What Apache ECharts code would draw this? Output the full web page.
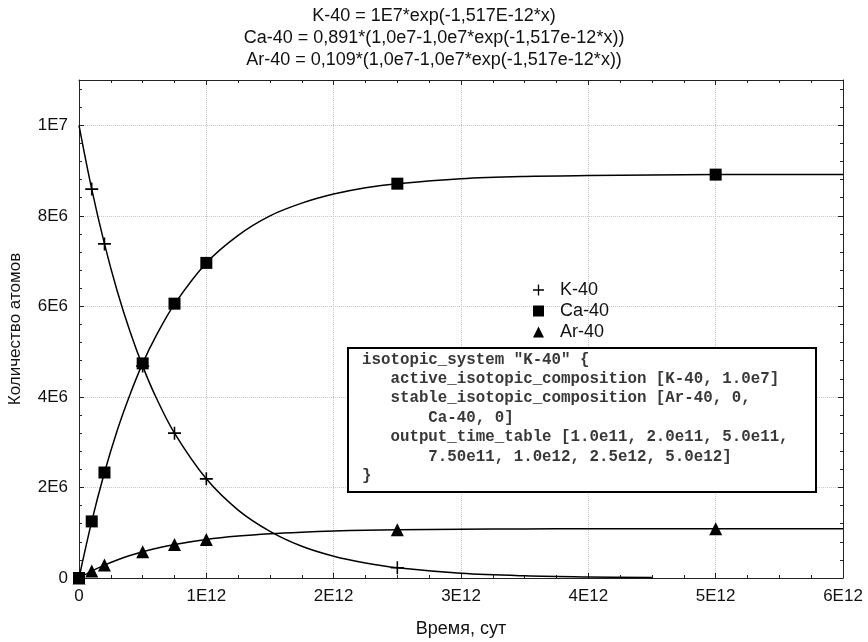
<!DOCTYPE html>
<html>
<head>
<meta charset="utf-8">
<title>K-40 decay</title>
<script src="https://cdn.jsdelivr.net/npm/echarts@6/dist/echarts.min.js"></script>
<style>
  html, body { margin: 0; padding: 0; background: #fff; }
  #chart { width: 868px; height: 642px; }
</style>
</head>
<body>
<div id="chart"></div>
<script>
// times of the computed output table (markers)
const markerTimes = [0, 1e11, 2e11, 5e11, 7.5e11, 1e12, 2.5e12, 5e12]
const k40Points = [null, 8.59e6, 7.38e6, 4.68e6, 3.20e6, 2.19e6, 2.25e5, null]
const ca40Points = [0, 1.25e6, 2.33e6, 4.74e6, 6.06e6, 6.96e6, 8.71e6, 8.91e6]
const ar40Points = [0, 1.53e5, 2.85e5, 5.79e5, 7.41e5, 8.51e5, 1.065e6, 1.089e6]

// fitted curves
const curveTimes = [0, 1e11, 2e11, 3e11, 4e11, 5e11, 6e11, 7.5e11, 1e12, 1.25e12, 1.5e12, 1.75e12, 2e12, 2.25e12, 2.5e12, 3e12, 3.5e12, 4e12, 4.5e12, 5e12, 6e12]
const k40Curve = [1.0e7, 8.59e6, 7.38e6, 6.34e6, 5.45e6, 4.68e6, 4.02e6, 3.20e6, 2.19e6, 1.50e6, 1.03e6, 7.0e5, 4.8e5, 3.3e5, 2.25e5, 1.05e5, 4.9e4, 2.3e4, 1.1e4, null, null]
const ca40Curve = [0, 1.25e6, 2.33e6, 3.26e6, 4.05e6, 4.74e6, 5.32e6, 6.05e6, 6.96e6, 7.57e6, 8.0e6, 8.28e6, 8.48e6, 8.62e6, 8.71e6, 8.82e6, 8.87e6, 8.89e6, 8.90e6, 8.91e6, 8.91e6]
const ar40Curve = [0, 1.53e5, 2.85e5, 3.99e5, 4.96e5, 5.79e5, 6.51e5, 7.41e5, 8.51e5, 9.26e5, 9.78e5, 1.013e6, 1.038e6, 1.054e6, 1.065e6, 1.079e6, 1.085e6, 1.087e6, 1.088e6, 1.089e6, 1.09e6]

const seriesNames = ['K-40', 'Ca-40', 'Ar-40']
const xTickLabels = ['0', '1E12', '2E12', '3E12', '4E12', '5E12', '6E12']
const yTickLabels = ['0', '2E6', '4E6', '6E6', '8E6', '1E7']

const titleLines = [
  'K-40 = 1E7*exp(-1,517E-12*x)',
  'Ca-40 = 0,891*(1,0e7-1,0e7*exp(-1,517e-12*x))',
  'Ar-40 = 0,109*(1,0e7-1,0e7*exp(-1,517e-12*x))',
]
const boxLines = [
  'isotopic_system "K-40" {',
  '   active_isotopic_composition [K-40, 1.0e7]',
  '   stable_isotopic_composition [Ar-40, 0,',
  '       Ca-40, 0]',
  '   output_time_table [1.0e11, 2.0e11, 5.0e11,',
  '       7.50e11, 1.0e12, 2.5e12, 5.0e12]',
  '}',
]

const FONT = '"Liberation Sans", Arial, sans-serif'
const PLUS = 'path://M4.4,0h1.2v10h-1.2zM0,4.4h10v1.2h-10z'

function pairs(xs, ys) {
  return xs.map((x, i) => [x, ys[i]]).filter(p => p[1] !== null)
}

function tickLabel(list, step) {
  return (v) => {
    const i = Math.round(v / step)
    return Math.abs(v - i * step) < step * 1e-6 && list[i] !== undefined ? list[i] : ''
  }
}

const axisLine = { show: true, onZero: false, lineStyle: { color: '#222', width: 1 } }
const axisTick = { show: true, inside: true, length: 5, lineStyle: { color: '#222' } }
const gridLine = { show: true, lineStyle: { color: '#c8c8c8', type: 'dotted', width: 1 } }

function lineSeries(name, ys) {
  return {
    name: name + ' fit',
    type: 'line',
    data: pairs(curveTimes, ys),
    symbol: 'none',
    smooth: 0.35,
    lineStyle: { color: '#000', width: 1.5 },
    z: 3,
  }
}

function markerSeries(name, ys, symbol, size) {
  return {
    name,
    type: 'scatter',
    data: pairs(markerTimes, ys),
    symbol,
    symbolSize: size,
    itemStyle: { color: '#000', opacity: 1 },
    z: 5,
  }
}

const chart = echarts.init(document.getElementById('chart'))
chart.setOption({
  animation: false,
  backgroundColor: '#fff',
  title: {
    text: titleLines.join('\n'),
    left: 'center',
    top: 5,
    padding: 0,
    textStyle: { fontSize: 18, fontWeight: 'normal', color: '#111', fontFamily: FONT, lineHeight: 22 },
  },
  grid: { left: 79, right: 25, top: 80, bottom: 64, containLabel: false, outerBoundsMode: 'none' },
  legend: {
    orient: 'vertical',
    left: 528,
    top: 276,
    itemWidth: 11,
    itemHeight: 11,
    itemGap: 3,
    selectedMode: false,
    itemStyle: { opacity: 1 },
    textStyle: { fontSize: 18, color: '#111', fontFamily: FONT, padding: [0, 0, 0, 11] },
    data: [
      { name: seriesNames[0], icon: PLUS },
      { name: seriesNames[1], icon: 'rect' },
      { name: seriesNames[2], icon: 'triangle' },
    ],
  },
  xAxis: [
    {
      type: 'value', position: 'bottom', min: 0, max: 6e12, interval: 1e12,
      axisLine, axisTick,
      minorTick: { show: true, splitNumber: 4, length: 3, lineStyle: { color: '#222' } },
      splitLine: gridLine,
      axisLabel: { formatter: tickLabel(xTickLabels, 1e12), fontSize: 17, color: '#111', fontFamily: FONT, margin: 10 },
      name: 'Время, сут', nameLocation: 'middle', nameGap: 42,
      nameTextStyle: { fontSize: 18, color: '#111', fontFamily: FONT },
    },
    {
      type: 'value', position: 'top', min: 0, max: 6e12, interval: 1e12,
      axisLine, axisTick,
      minorTick: { show: true, splitNumber: 4, length: 3, lineStyle: { color: '#222' } },
      splitLine: { show: false },
      axisLabel: { show: false },
    },
  ],
  yAxis: [
    {
      type: 'value', position: 'left', min: 0, max: 1.1e7, interval: 2e6,
      axisLine, axisTick,
      minorTick: { show: true, splitNumber: 5, length: 3, lineStyle: { color: '#222' } },
      splitLine: gridLine,
      axisLabel: { formatter: tickLabel(yTickLabels, 2e6), fontSize: 17, color: '#111', fontFamily: FONT, margin: 11 },
      name: 'Количество атомов', nameLocation: 'middle', nameGap: 55, nameRotate: 90,
      nameTextStyle: { fontSize: 17, color: '#111', fontFamily: FONT },
    },
    {
      type: 'value', position: 'right', min: 0, max: 1.1e7, interval: 2e6,
      axisLine, axisTick,
      minorTick: { show: true, splitNumber: 5, length: 3, lineStyle: { color: '#222' } },
      splitLine: { show: false },
      axisLabel: { show: false },
    },
  ],
  series: [
    lineSeries(seriesNames[0], k40Curve),
    lineSeries(seriesNames[1], ca40Curve),
    lineSeries(seriesNames[2], ar40Curve),
    markerSeries(seriesNames[0], k40Points, PLUS, 13),
    markerSeries(seriesNames[1], ca40Points, 'rect', 12),
    markerSeries(seriesNames[2], ar40Points, 'triangle', 13),
  ],
  graphic: [
    {
      type: 'rect', z: 100,
      shape: { x: 348, y: 348, width: 468, height: 144 },
      style: { fill: '#fff', stroke: '#000', lineWidth: 2 },
    },
    {
      type: 'text', z: 101, x: 362, y: 350,
      style: {
        text: boxLines.join('\n'),
        font: 'bold 15.8px "Liberation Mono", "Courier New", monospace',
        fill: '#383838',
        lineHeight: 19.4,
        verticalAlign: 'top',
      },
    },
  ],
})
</script>
</body>
</html>
